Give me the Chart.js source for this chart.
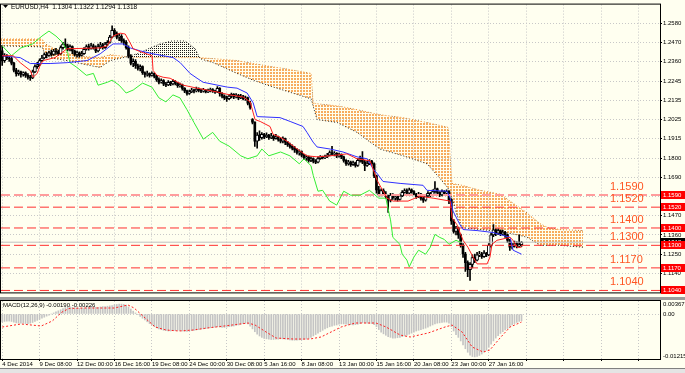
<!DOCTYPE html>
<html>
<head>
<meta charset="utf-8">
<title>EURUSD,H4</title>
<script src="https://cdn.jsdelivr.net/npm/chart.js@4.4.1/dist/chart.umd.min.js"></script>
<style>
  html, body { margin: 0; padding: 0; background: #fffff0; }
  #wrap { position: relative; width: 685px; height: 373px; overflow: hidden; background: #fffff0; }
  canvas { position: absolute; left: 0; }
  #main { top: 0; }
  #macd { top: 300px; }
  #sep { position: absolute; left: 0; top: 297px; width: 685px; height: 3px; background: #9c9c9c; }
  #tabs { position: absolute; left: 0; top: 368px; width: 685px; height: 5px; background: #e4e4e4; border-top: 1px solid #808080; }
</style>
</head>
<body>
<div id="wrap">
  <canvas id="main" width="685" height="297"></canvas>
  <div id="sep"></div>
  <canvas id="macd" width="685" height="68"></canvas>
  <div id="tabs"></div>
</div>
<script>
const FONT = "'Liberation Sans', Arial, sans-serif";
const chartTitle = 'EURUSD,H4  1.1304 1.1322 1.1294 1.1318';
const macdTitle = 'MACD(12,26,9) -0.00190 -0.00226';

// time axis, one label every 16 H4 bars
const timeLabels = ['4 Dec 2014', '9 Dec 08:00', '12 Dec 00:00', '16 Dec 16:00', '19 Dec 08:00', '24 Dec 00:00',
  '30 Dec 08:00', '5 Jan 16:00', '8 Jan 08:00', '13 Jan 00:00', '15 Jan 16:00', '20 Jan 08:00', '23 Jan 00:00', '27 Jan 16:00'];
const labelStep = 16;

// all prices below are price x 10000
const priceTicks = [12580, 12470, 12360, 12245, 12135, 12025, 11915, 11800, 11690, 11580, 11470, 11360, 11250, 11140];
const levels = [11590, 11520, 11400, 11300, 11170, 11040];
const bid = 11318;

// candles [open, high, low, close], bar 0 = 4 Dec 2014
const ohlc = [
  [12421,12450,12337,12365],[12365,12405,12355,12393],[12393,12400,12370,12380],[12380,12390,12360,12376],
  [12376,12385,12340,12350],[12350,12355,12300,12310],[12310,12320,12275,12290],[12290,12310,12280,12300],
  [12300,12305,12270,12285],[12285,12300,12275,12295],[12295,12300,12268,12280],[12280,12290,12258,12270],
  [12270,12280,12250,12265],[12265,12310,12260,12300],[12300,12340,12295,12330],[12330,12355,12320,12340],
  [12340,12375,12335,12365],[12365,12395,12360,12380],[12380,12410,12375,12400],[12400,12412,12380,12395],
  [12395,12420,12390,12410],[12410,12425,12390,12400],[12400,12430,12395,12420],[12420,12435,12400,12415],
  [12415,12425,12395,12405],[12405,12450,12400,12440],[12440,12470,12430,12460],[12460,12490,12440,12450],
  [12450,12460,12420,12430],[12430,12455,12420,12445],[12445,12450,12405,12420],[12420,12425,12390,12400],
  [12400,12420,12385,12410],[12410,12415,12385,12395],[12395,12418,12390,12405],[12405,12440,12400,12430],
  [12430,12455,12425,12445],[12445,12460,12425,12435],[12435,12465,12430,12450],[12450,12460,12430,12440],
  [12440,12450,12410,12420],[12420,12460,12415,12445],[12445,12470,12435,12455],[12455,12465,12430,12440],
  [12440,12470,12435,12460],[12460,12480,12450,12470],[12470,12510,12465,12500],[12500,12565,12495,12540],
  [12540,12550,12505,12520],[12520,12530,12490,12500],[12500,12520,12480,12505],[12505,12515,12470,12480],
  [12480,12490,12455,12470],[12470,12480,12430,12440],[12440,12450,12380,12390],[12390,12400,12340,12350],
  [12350,12375,12330,12360],[12360,12370,12320,12335],[12335,12345,12310,12320],[12320,12340,12305,12330],
  [12330,12335,12285,12295],[12295,12300,12270,12285],[12285,12305,12275,12290],[12290,12295,12270,12280],
  [12280,12300,12275,12290],[12290,12295,12265,12275],[12275,12280,12245,12255],[12255,12265,12230,12240],
  [12240,12260,12235,12250],[12250,12255,12220,12230],[12230,12240,12215,12225],[12225,12250,12220,12240],
  [12240,12245,12220,12230],[12230,12255,12225,12245],[12245,12250,12225,12235],[12235,12240,12210,12220],
  [12220,12235,12212,12225],[12225,12230,12195,12205],[12205,12210,12180,12190],[12190,12195,12165,12175],
  [12175,12195,12170,12185],[12185,12205,12180,12195],[12195,12200,12178,12190],[12190,12212,12185,12200],
  [12200,12208,12185,12195],[12195,12200,12180,12188],[12188,12205,12183,12195],[12195,12198,12178,12185],
  [12185,12200,12180,12192],[12192,12206,12185,12198],[12198,12203,12182,12190],[12190,12195,12175,12185],
  [12185,12215,12180,12205],[12205,12210,12160,12175],[12175,12180,12150,12160],[12160,12168,12140,12150],
  [12150,12160,12130,12145],[12145,12170,12140,12160],[12160,12178,12150,12170],[12170,12175,12145,12155],
  [12155,12175,12150,12165],[12165,12170,12140,12150],[12150,12170,12145,12160],[12160,12165,12138,12145],
  [12145,12160,12135,12150],[12150,12155,12110,12120],[12120,12130,12085,12095],[12025,12030,12000,12010],
  [12010,12012,11870,11900],[11900,11950,11860,11935],[11935,11960,11905,11920],[11920,11950,11912,11940],
  [11940,11945,11915,11925],[11925,11948,11920,11935],[11935,11940,11910,11920],[11920,11945,11915,11930],
  [11930,11935,11905,11915],[11915,11940,11912,11925],[11925,11930,11900,11910],[11910,11920,11890,11900],
  [11900,11925,11890,11915],[11915,11918,11880,11895],[11895,11900,11870,11880],[11880,11890,11860,11870],
  [11870,11880,11850,11860],[11860,11870,11835,11850],[11850,11858,11825,11835],[11835,11850,11820,11840],
  [11840,11845,11810,11820],[11820,11825,11795,11805],[11805,11820,11790,11810],[11810,11815,11780,11790],
  [11790,11810,11782,11800],[11800,11805,11775,11785],[11785,11795,11770,11780],[11780,11810,11775,11800],
  [11800,11818,11795,11810],[11810,11815,11798,11805],[11805,11820,11800,11812],[11812,11830,11805,11820],
  [11820,11845,11815,11835],[11835,11870,11820,11825],[11825,11840,11815,11830],[11830,11835,11805,11815],
  [11815,11832,11808,11825],[11825,11828,11800,11810],[11810,11815,11780,11790],[11790,11795,11760,11770],
  [11770,11790,11762,11780],[11780,11785,11755,11765],[11765,11785,11760,11775],[11775,11780,11750,11760],
  [11760,11800,11755,11790],[11790,11815,11780,11800],[11800,11840,11770,11780],[11780,11790,11730,11760],
  [11760,11785,11755,11770],[11770,11795,11765,11785],[11785,11790,11760,11770],[11770,11775,11690,11700],
  [11700,11705,11600,11620],[11620,11640,11585,11590],[11590,11625,11585,11615],[11615,11625,11590,11595],
  [11595,11610,11570,11580],[11580,11590,11490,11560],[11560,11600,11550,11590],[11590,11598,11565,11575],
  [11575,11590,11560,11580],[11580,11585,11555,11565],[11565,11595,11560,11585],[11585,11615,11580,11605],
  [11605,11625,11600,11615],[11615,11625,11595,11600],[11600,11630,11598,11620],[11620,11625,11600,11610],
  [11610,11615,11590,11595],[11595,11600,11570,11580],[11580,11605,11575,11595],[11595,11600,11560,11570],
  [11570,11580,11548,11560],[11560,11590,11555,11585],[11585,11610,11580,11600],[11600,11605,11580,11590],
  [11590,11620,11585,11610],[11610,11668,11600,11625],[11625,11630,11595,11605],[11605,11610,11580,11590],
  [11590,11620,11585,11610],[11610,11615,11590,11600],[11600,11620,11595,11610],[11610,11615,11540,11560],
  [11560,11570,11420,11440],[11440,11450,11370,11380],[11380,11410,11360,11400],[11400,11405,11340,11360],
  [11360,11365,11290,11300],[11300,11310,11230,11250],[11250,11260,11150,11200],[11200,11210,11120,11160],
  [11160,11200,11098,11190],[11190,11245,11170,11230],[11230,11250,11200,11215],[11215,11260,11210,11245],
  [11245,11265,11235,11250],[11250,11260,11225,11235],[11235,11270,11230,11255],[11255,11260,11235,11245],
  [11245,11310,11240,11300],[11300,11370,11290,11360],[11360,11420,11350,11390],[11390,11395,11355,11370],
  [11370,11395,11362,11385],[11385,11390,11355,11365],[11365,11388,11360,11375],[11375,11380,11345,11360],
  [11360,11365,11315,11330],[11330,11335,11270,11290],[11290,11310,11280,11300],[11300,11325,11290,11310],
  [11310,11320,11285,11295],[11295,11360,11290,11304],[11304,11322,11294,11318]
];

// ichimoku lines: [bar, price]
const tenkan = [[0,12393],[4.7,12393],[7.7,12353],[12,12308],[13.2,12269],[15,12291],[16.2,12337],[17.5,12365],
  [22.6,12382],[24.8,12404],[27.8,12433],[41.9,12438],[44.9,12450],[47.4,12506],[50.4,12523],[52.6,12518],
  [54.7,12467],[56,12433],[60.3,12410],[64.1,12393],[64.5,12308],[66.2,12280],[68.8,12269],[71.8,12263],
  [77.4,12223],[83.3,12206],[87.6,12195],[91.9,12184],[97.4,12167],[103,12155],[106,12127],[108.1,12025],
  [110.3,12014],[114.5,11985],[115.8,11940],[118.8,11923],[121.8,11900],[126.1,11855],[130.3,11816],
  [134.6,11810],[140.2,11816],[147.4,11827],[151.7,11799],[157.3,11787],[160.3,11674],[164.5,11572],
  [167.1,11555],[173.5,11555],[176.5,11572],[178.6,11583],[184.2,11572],[191.5,11555],[192.3,11459],
  [194.4,11419],[197,11329],[199.1,11289],[201.3,11232],[203,11193],[207.3,11193],[208.5,11232],
  [209.4,11306],[211.5,11329],[217.1,11346],[218.4,11329],[220.1,11289],[222,11289]];
const kijun = [[0,12393],[7.7,12382],[12,12348],[20.5,12348],[27.8,12353],[36.3,12365],[41.9,12404],
  [47.4,12461],[51.7,12461],[54.7,12438],[59,12421],[64.5,12404],[73.1,12382],[76.1,12353],[80.3,12291],
  [83.3,12263],[85.9,12240],[96.2,12212],[100.4,12206],[104.7,12178],[107.3,12121],[109,12042],
  [118.8,12036],[123.1,12014],[128.6,11985],[130.3,11951],[132.9,11895],[134.6,11867],[140.2,11855],
  [145.7,11838],[151.7,11810],[156,11799],[158.5,11742],[160.3,11714],[162.8,11668],[170.1,11657],
  [179.9,11646],[181.6,11617],[190.2,11612],[191.5,11572],[192.7,11498],[195.7,11419],[197,11391],
  [203,11385],[209.8,11374],[217.1,11346],[218.4,11272],[222,11249]];
const chikou = [[0,12450],[4,12393],[8,12438],[13,12461],[17,12506],[20,12535],[23,12506],[26,12467],
  [28,12410],[29,12353],[32,12325],[36,12280],[39,12291],[41,12223],[45,12240],[47,12252],[50,12223],
  [53,12178],[56,12195],[60,12235],[64,12212],[67,12150],[70,12127],[73,12167],[76,12150],[79,12082],
  [82,12008],[86,11912],[90,11951],[93,11900],[97,11872],[102,11816],[105,11799],[109,11816],[111,11855],
  [114,11816],[119,11838],[123,11816],[127,11770],[129,11799],[132,11759],[133,11702],[135,11612],
  [137,11617],[140,11555],[143,11532],[146,11612],[149,11589],[153,11589],[157,11617],[161,11572],
  [164,11572],[166,11447],[167,11346],[170,11306],[171,11249],[173,11215],[174,11176],[176,11232],
  [178,11272],[181,11249],[183,11289],[185,11363],[187,11346],[189,11334],[191,11306],[194,11329],[196,11317]];

// cloud, shifted 26 bars ahead
const cloudX = [-0.5,17.1,18.4,22.6,27.8,35.5,41.9,46.2,53.4,59,63.2,67.5,72.6,78.2,82.5,84.6,90.2,100.4,107.3,
  114.5,120.1,132.1,132.9,134.6,143.2,151.7,157.3,161.5,171.4,181.6,187.2,190.6,192.3,194.4,196.6,204.3,212.8,
  221.4,224.4,229.9,233.3,238.4,248.3];
const spanA = [12450,12444,12393,12376,12365,12342,12325,12365,12387,12410,12438,12461,12478,12478,12433,12376,
  12353,12291,12252,12218,12195,12144,12104,12025,12008,11951,11895,11855,11816,11770,11685,11629,11572,11476,
  11402,11391,11380,11357,11346,11300,11300,11300,11289];
const spanB = [12489,12489,12461,12433,12410,12387,12382,12399,12387,12382,12382,12382,12382,12382,12382,12382,
  12376,12365,12348,12331,12320,12291,12121,12116,12104,12082,12065,12053,12036,12008,11991,11980,11657,11651,
  11646,11617,11595,11515,11487,11425,11402,11391,11385];

// MACD main line (histogram), one value per bar
const macdMain = [
  -0.0022,-0.0021,-0.0020,-0.0020,-0.0021,-0.0023,-0.0025,-0.0026,-0.0026,
  -0.0026,-0.0027,-0.0027,-0.0026,-0.0024,-0.0021,-0.0018,-0.0015,
  -0.0012,-0.0009,-0.0006,-0.0003,0.0000,0.0003,0.0006,
  0.0009,0.0012,0.0015,0.0018,0.0019,0.0020,0.0019,
  0.0018,0.0017,0.0016,0.0016,0.0017,0.0018,0.0019,0.0020,0.0020,0.0019,0.0019,0.0020,0.0021,0.0021,0.0022,
  0.0023,0.0024,0.0026,0.0027,0.0028,0.0028,0.0027,
  0.0025,0.0020,0.0014,0.0008,0.0003,-0.0002,
  -0.0007,-0.0012,-0.0017,-0.0022,-0.0027,-0.0031,-0.0035,-0.0039,
  -0.0042,-0.0044,-0.0046,-0.0047,-0.0048,-0.0048,-0.0047,-0.0047,-0.0046,-0.0047,-0.0048,-0.0049,-0.0049,-0.0048,
  -0.0047,-0.0046,-0.0045,-0.0044,-0.0043,-0.0042,-0.0041,-0.0040,
  -0.0039,-0.0038,-0.0037,-0.0036,-0.0037,-0.0038,-0.0038,-0.0037,-0.0036,-0.0035,-0.0034,-0.0032,-0.0031,-0.0029,
  -0.0027,-0.0026,-0.0028,
  -0.0034,-0.0042,-0.0050,-0.0057,-0.0062,-0.0066,-0.0069,
  -0.0070,-0.0071,-0.0072,-0.0072,-0.0071,-0.0071,-0.0070,-0.0070,-0.0071,-0.0072,-0.0073,-0.0074,-0.0074,-0.0074,
  -0.0073,-0.0073,-0.0072,-0.0071,
  -0.0069,-0.0066,-0.0062,-0.0058,-0.0054,-0.0050,-0.0046,-0.0042,-0.0039,-0.0036,-0.0034,-0.0032,
  -0.0031,-0.0029,-0.0028,-0.0028,-0.0029,-0.0030,-0.0030,-0.0031,-0.0030,-0.0029,-0.0027,-0.0025,-0.0025,-0.0026,
  -0.0027,-0.0027,-0.0030,-0.0036,
  -0.0044,-0.0051,-0.0056,-0.0060,-0.0064,-0.0066,-0.0068,-0.0068,-0.0067,-0.0066,-0.0064,-0.0062,
  -0.0060,-0.0057,-0.0054,-0.0051,-0.0048,-0.0046,-0.0044,-0.0042,-0.0040,-0.0037,-0.0034,-0.0031,-0.0028,-0.0026,
  -0.0025,-0.0024,-0.0023,-0.0023,
  -0.0026,-0.0036,-0.0048,-0.0058,-0.0066,-0.0076,-0.0087,
  -0.0098,-0.0108,-0.0116,-0.0120,-0.0121,-0.0120,-0.0117,-0.0113,
  -0.0108,-0.0102,-0.0094,-0.0085,-0.0076,-0.0068,-0.0061,-0.0055,-0.0050,-0.0045,-0.0041,-0.0036,-0.0031,-0.0027,
  -0.0024,-0.0021,-0.0019
];
// signal line: [bar, value]
const macdSignal = [[0,-0.00367],[8.1,-0.00282],[16.7,-0.00339],[21.4,-0.00198],[25.6,0.00056],[28.6,0.00155],
  [34.6,0.00169],[47.9,0.00169],[53.8,0.00254],[56.4,0.00169],[61.1,-0.00113],[65.4,-0.00367],[70.1,-0.00452],
  [75.6,-0.0048],[81.6,-0.00452],[87.6,-0.00395],[94.9,-0.00339],[105.1,-0.00254],[108.1,-0.00311],
  [112.8,-0.00508],[117.1,-0.00678],[124.4,-0.00706],[131.6,-0.00706],[136.3,-0.00649],[140.6,-0.00508],
  [144.9,-0.00367],[150.9,-0.00254],[159.8,-0.00254],[164.1,-0.00367],[170.1,-0.00593],[174.4,-0.00649],
  [182.1,-0.00536],[189.3,-0.00367],[192.3,-0.00311],[196.6,-0.00508],[200.9,-0.00932],[205.6,-0.01073],
  [208.5,-0.01016],[212.8,-0.00678],[217.1,-0.00367],[222,-0.00226]];
const macdTicks = [0.00367, 0, -0.01215];
const macdTickLabels = ['0.00367', '0.00', '-0.01215'];

// ---- build ----
const P = v => v / 10000;
const X_MIN = -0.5, X_MAX = 281.2;
const gridBars = [];
for (let b = 0; b <= X_MAX; b += labelStep) gridBars.push(b);

const wicks = ohlc.map((c, i) => ({x: i, y: [P(c[2]), P(c[1])]}));
const bull = [], bear = [];
ohlc.forEach((c, i) => (c[3] >= c[0] ? bull : bear).push({x: i, y: [P(c[0]), P(c[3])]}));
const pts = arr => arr.map(p => ({x: p[0], y: P(p[1])}));
const cloudPts = arr => arr.map((v, k) => ({x: cloudX[k], y: P(v)}));

function dotPattern(color, size, cells) {
  const c = document.createElement('canvas');
  c.width = size; c.height = size;
  const g = c.getContext('2d');
  g.fillStyle = color;
  cells.forEach(([x, y]) => g.fillRect(x, y, 1, 1));
  return g.createPattern(c, 'repeat');
}
// 2x2 orange squares on a 3px grid, like MT4's dotted histogram cloud
const orangeDots = dotPattern('#f7ac5e', 3, [[0,0],[1,0],[0,1],[1,1]]);
const darkDots = dotPattern('#1a1a1a', 2, [[0,0]]);

const line = (data, color, extra) => Object.assign({
  type: 'line', data, borderColor: color, borderWidth: 1, pointRadius: 0, tension: 0, fill: false, order: 1
}, extra || {});

const levelSets = levels.map((v, k) => line([{x: X_MIN, y: P(v)}, {x: X_MAX, y: P(v)}],
  k === 0 ? '#ff9c9c' : '#ff3030', {borderDash: [9, 4], borderWidth: k === 0 ? 2 : 1, order: 2}));

const mainOverlay = {
  id: 'mainOverlay',
  afterDraw(chart) {
    const {ctx, chartArea: a} = chart;
    const y = chart.scales.y;
    ctx.save();
    ctx.strokeStyle = '#000';
    ctx.lineWidth = 1;
    ctx.strokeRect(a.left - 0.5, a.top - 0.5, a.right - a.left + 1, a.bottom - a.top + 1);
    // title
    ctx.fillStyle = '#000';
    ctx.beginPath(); ctx.moveTo(3, 5); ctx.lineTo(8, 5); ctx.lineTo(5.5, 8); ctx.closePath(); ctx.fill();
    ctx.font = `6.5px ${FONT}`;
    ctx.textBaseline = 'middle';
    ctx.textAlign = 'left';
    ctx.fillText(chartTitle, 11, 7);
    // big level captions
    ctx.font = `11px ${FONT}`;
    ctx.fillStyle = '#ff5522';
    ctx.textBaseline = 'alphabetic';
    levels.forEach(v => ctx.fillText(P(v).toFixed(4), 610, y.getPixelForValue(P(v)) - 5));
    // price boxes on the right axis
    ctx.font = `6px ${FONT}`;
    ctx.textBaseline = 'middle';
    const box = (v, bg) => {
      const py = Math.round(y.getPixelForValue(P(v)));
      ctx.fillStyle = bg;
      ctx.fillRect(a.right + 1, py - 4, 24, 8);
      ctx.fillStyle = '#fff';
      ctx.fillText(P(v).toFixed(4), a.right + 3, py);
    };
    box(bid, '#000');
    levels.forEach(v => box(v, '#ff0000'));
    ctx.restore();
  }
};

new Chart(document.getElementById('main'), {
  type: 'bar',
  data: {
    datasets: [
      {data: wicks, backgroundColor: '#000', barThickness: 1, grouped: false, order: 5},
      {data: bull, backgroundColor: '#fff', borderColor: '#000', borderWidth: 1, borderSkipped: false, barThickness: 3, grouped: false, order: 4},
      {data: bear, backgroundColor: '#000', barThickness: 2, grouped: false, order: 4},
      line(cloudPts(spanB), '#f08a2a', {borderDash: [1, 2], order: 8}),
      line(cloudPts(spanA), '#222', {borderDash: [1, 2], order: 7, fill: {target: 3, above: darkDots, below: orangeDots}}),
      line(pts(tenkan), '#ff2020'),
      line(pts(kijun), '#3030ff'),
      line(pts(chikou), '#33ee33'),
      ...levelSets,
      line([{x: X_MIN, y: P(bid)}, {x: X_MAX, y: P(bid)}], '#c0c0c0', {order: 3})
    ]
  },
  options: {
    responsive: false,
    animation: false,
    devicePixelRatio: 1,
    layout: {padding: {top: 3, left: 1, right: 0, bottom: 1}},
    plugins: {legend: {display: false}, tooltip: {enabled: false}},
    scales: {
      x: {
        type: 'linear', min: X_MIN, max: X_MAX, offset: false,
        afterFit: s => { s.height = 0; },
        afterBuildTicks: s => { s.ticks = gridBars.map(v => ({value: v})); },
        ticks: {display: false},
        grid: {color: '#c8c8c8', offset: false, drawTicks: false},
        border: {display: false, dash: [1, 2]}
      },
      y: {
        position: 'right', min: 1.10287, max: 1.26876,
        afterFit: s => { s.width = 25; },
        afterBuildTicks: s => { s.ticks = priceTicks.map(v => ({value: P(v)})); },
        ticks: {autoSkip: false, padding: 1, color: '#000', font: {size: 6, family: FONT}, callback: v => v.toFixed(4)},
        grid: {color: '#c8c8c8', tickLength: 2, tickColor: '#000', tickBorderDash: []},
        border: {display: false, dash: [1, 2]}
      }
    }
  },
  plugins: [mainOverlay]
});

const macdOverlay = {
  id: 'macdOverlay',
  afterDraw(chart) {
    const {ctx, chartArea: a} = chart;
    const y = chart.scales.y;
    ctx.save();
    ctx.strokeStyle = '#000';
    ctx.lineWidth = 1;
    ctx.strokeRect(a.left - 0.5, a.top - 0.5, a.right - a.left + 1, a.bottom - a.top + 1);
    ctx.fillStyle = '#000';
    ctx.font = `6px ${FONT}`;
    ctx.textBaseline = 'middle';
    ctx.textAlign = 'left';
    ctx.fillText(macdTitle, 3, a.top + 4);
    macdTicks.forEach((v, k) => {
      const py = Math.min(Math.max(y.getPixelForValue(v), a.top + 3), a.bottom - 3);
      ctx.fillText(macdTickLabels[k], a.right + 3, py);
    });
    ctx.restore();
  }
};

new Chart(document.getElementById('macd'), {
  type: 'bar',
  data: {
    datasets: [
      line(pts(macdSignal.map(p => [p[0], p[1] * 10000])), '#ff2020', {borderDash: [2, 2], order: 1}),
      {data: macdMain.map((v, i) => ({x: i, y: v})), backgroundColor: '#c4c4c4', barThickness: 1, grouped: false, order: 2}
    ]
  },
  options: {
    responsive: false,
    animation: false,
    devicePixelRatio: 1,
    layout: {padding: {top: 1, left: 1, right: 0, bottom: 1}},
    plugins: {legend: {display: false}, tooltip: {enabled: false}},
    scales: {
      x: {
        type: 'linear', min: X_MIN, max: X_MAX, offset: false,
        afterFit: s => { s.height = 8; },
        afterBuildTicks: s => { s.ticks = gridBars.map(v => ({value: v})); },
        ticks: {autoSkip: false, maxRotation: 0, align: 'start', padding: 0, color: '#000',
          font: {size: 6, family: FONT}, callback: (v, i) => timeLabels[i] || ''},
        grid: {color: '#c8c8c8', offset: false, tickLength: 2, tickColor: '#000', tickBorderDash: []},
        border: {display: false, dash: [1, 2]}
      },
      y: {
        position: 'right', min: -0.0127, max: 0.00367,
        afterFit: s => { s.width = 25; },
        afterBuildTicks: s => { s.ticks = [{value: 0}]; },
        ticks: {display: false},
        grid: {color: '#c8c8c8', drawTicks: false},
        border: {display: false, dash: [1, 2]}
      }
    }
  },
  plugins: [macdOverlay]
});
</script>
</body>
</html>
